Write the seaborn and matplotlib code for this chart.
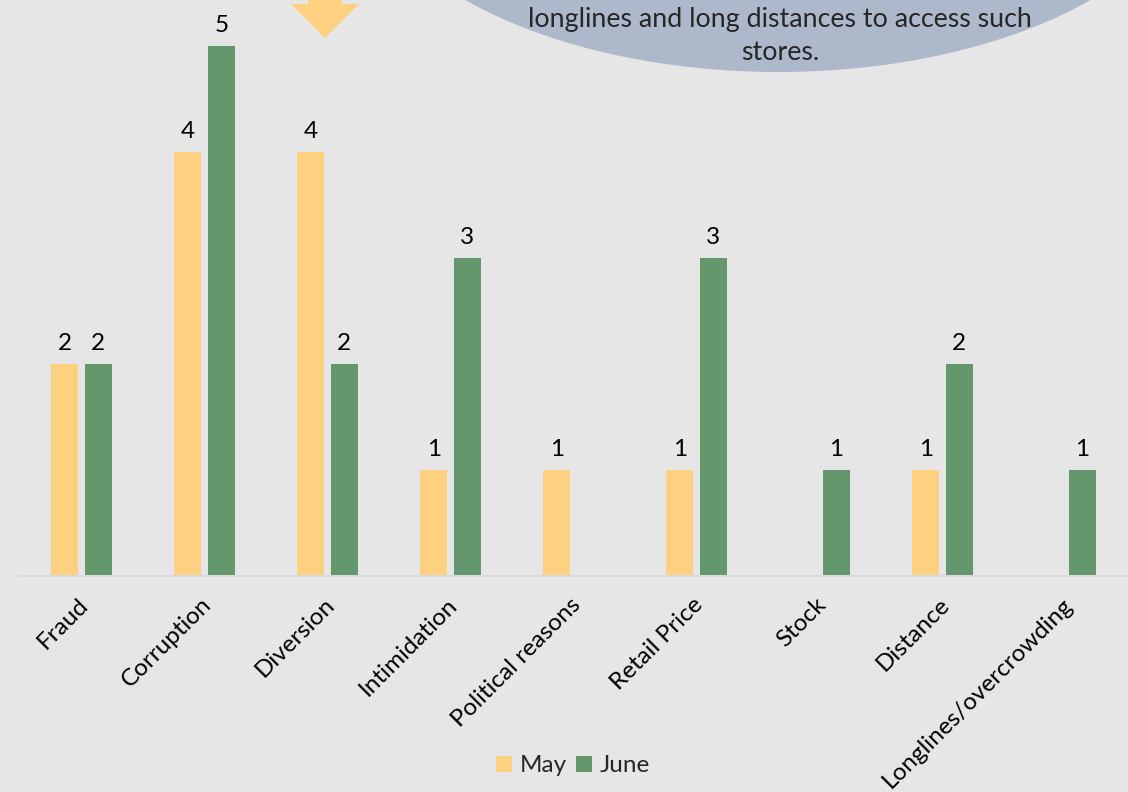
import matplotlib
matplotlib.use("Agg")
import matplotlib.pyplot as plt
import matplotlib.transforms as mtransforms
from matplotlib.patches import Ellipse, Polygon, Patch
import numpy as np
import pandas as pd
import seaborn as sns

categories = ["Fraud", "Corruption", "Diversion", "Intimidation", "Political reasons",
              "Retail Price", "Stock", "Distance", "Longlines/overcrowding"]
may_values = [2, 4, 4, 1, 1, 1, np.nan, 1, np.nan]
june_values = [2, 5, 2, 3, np.nan, 3, 1, 2, 1]
series_names = ["May", "June"]
note_lines = ["longlines and long distances to access such", "stores."]

BG = "#E7E6E6"
COLORS = {"May": "#FFD07F", "June": "#64976C"}
FONT = ["Lato", "DejaVu Sans"]
FS = 17.5

sns.set_theme(style="white")
plt.rcParams["font.family"] = FONT

df = pd.DataFrame({
    "category": categories * 2,
    "series": [series_names[0]] * len(categories) + [series_names[1]] * len(categories),
    "value": may_values + june_values,
})

W, H = 1128, 792
fig = plt.figure(figsize=(W / 100, H / 100), dpi=100, facecolor=BG)
ax = fig.add_axes([20 / W, 1 - 576 / H, (1127 - 20) / W, 576 / H])
ax.set_facecolor(BG)

sns.barplot(data=df, x="category", y="value", hue="series", order=categories,
            hue_order=series_names, palette=COLORS, width=0.545, gap=0.18,
            saturation=1, ax=ax, legend=False, err_kws={"linewidth": 0},
            edgecolor="none", linewidth=0)

ax.set_xlim(-0.5, len(categories) - 0.5)
ax.set_ylim(0, 576 / 106)
ax.set_xlabel("")
ax.set_ylabel("")
ax.set_yticks([])
for s in ["top", "right", "left"]:
    ax.spines[s].set_visible(False)
ax.spines["bottom"].set_color("#D9D9D9")
ax.spines["bottom"].set_linewidth(1.5)

for cont in ax.containers:
    ax.bar_label(cont, fmt="%g", padding=7, fontsize=FS, color="#000000")

ax.tick_params(axis="x", length=0, pad=13)
ax.set_xticks(range(len(categories)))
ax.set_xticklabels(categories, rotation=45, ha="right", va="top",
                   rotation_mode="anchor", fontsize=FS, color="#000000")
offset = mtransforms.ScaledTranslation(-4 / 100, 0, fig.dpi_scale_trans)
for lab in ax.get_xticklabels():
    lab.set_transform(lab.get_transform() + offset)

handles = [Patch(facecolor=COLORS[s], edgecolor="none", label=s) for s in series_names]
fig.legend(handles=handles, loc="center", bbox_to_anchor=(573 / W, 1 - 766 / H),
           ncol=2, frameon=False, fontsize=FS, handlelength=0.65, handleheight=0.65,
           handletextpad=0.3, columnspacing=0.4)

# overlay annotations (pixel coordinates)
ov = fig.add_axes([0, 0, 1, 1], zorder=5)
ov.set_xlim(0, W)
ov.set_ylim(H, 0)
ov.axis("off")
ov.patch.set_alpha(0)
ov.add_patch(Ellipse((778, -150), 848, 444, facecolor="#ADB9CA", edgecolor="none"))
ov.text(780, 19, note_lines[0], ha="center", va="center", fontsize=19.3, color="#262626")
ov.text(780, 53, note_lines[1], ha="center", va="center", fontsize=19.3, color="#262626")
ov.add_patch(Polygon([(308, -5), (342, -5), (342, 4), (359, 4), (325, 38), (291, 4), (308, 4)],
                     closed=True, facecolor="#FFD07F", edgecolor="none"))

fig.savefig("out.png", dpi=100, facecolor=BG)
